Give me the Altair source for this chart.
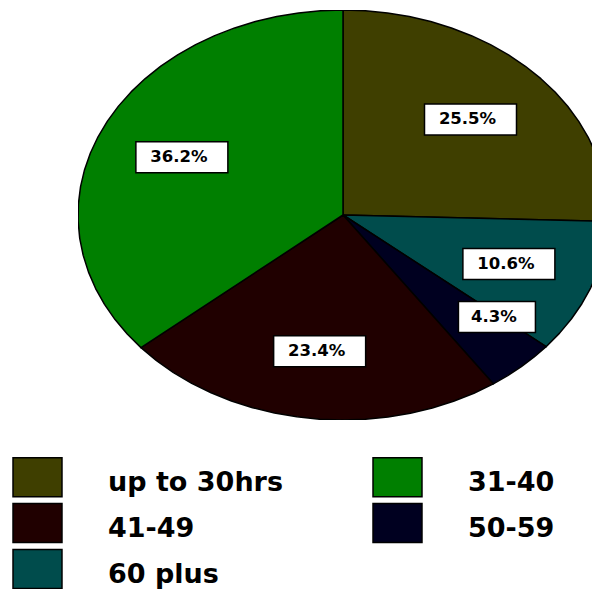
import altair as alt
import pandas as pd

# slices in clockwise order from 12 o'clock
categories = ["up to 30hrs", "60 plus", "50-59", "41-49", "31-40"]
shares = [25.5, 10.6, 4.3, 23.4, 36.2]
# legend order and colours
legend_order = ["up to 30hrs", "31-40", "41-49", "50-59", "60 plus"]
colors = ["#3f3f00", "#007f00", "#200000", "#000020", "#004c4c"]

df = pd.DataFrame({"cat": categories, "share": shares, "idx": list(range(len(categories)))})

PX, PY = 265.0, 205.0          # ellipse radii in pixels
W = 514                         # visible plot width (pie is cut at the right edge)
H = int(2 * PY)
XMAX = W / PX - 1

xs = alt.Scale(domain=[-1, XMAX], nice=False, zero=False)
ys = alt.Scale(domain=[-1, 1], nice=False, zero=False)

base = (
    alt.Chart(df)
    .transform_window(cum="sum(share)", sort=[{"field": "idx"}], frame=[None, 0])
    .transform_joinaggregate(total="sum(share)")
    .transform_calculate(
        a0="PI/2 - 2*PI*(datum.cum - datum.share)/datum.total",
        a1="PI/2 - 2*PI*datum.cum/datum.total",
        frac="datum.share/datum.total",
    )
)

pie = (
    base.transform_calculate(n="max(2, ceil(datum.frac*72))")
    .transform_calculate(pts="sequence(0, datum.n + 2)")
    .transform_flatten(["pts"], as_=["k"])
    .transform_calculate(
        x="datum.k == 0 ? 0 : cos(datum.a0 + (datum.a1 - datum.a0)*(datum.k - 1)/datum.n)",
        y="datum.k == 0 ? 0 : sin(datum.a0 + (datum.a1 - datum.a0)*(datum.k - 1)/datum.n)",
    )
    .mark_line(interpolate="linear-closed", stroke="black", strokeWidth=1.5,
               strokeJoin="round", clip=True)
    .encode(
        x=alt.X("x:Q", scale=xs, axis=None),
        y=alt.Y("y:Q", scale=ys, axis=None),
        order=alt.Order("k:Q"),
        detail="cat:N",
        fill=alt.Fill(
            "cat:N",
            scale=alt.Scale(domain=legend_order, range=colors),
            legend=alt.Legend(
                title=None,
                orient="none",
                legendX=-61,
                legendY=452,
                direction="horizontal",
                columns=2,
                symbolType="M-1.256,-1.282H1.256V0.718H-1.256Z",
                symbolSize=1521,
                symbolStrokeColor="black",
                symbolStrokeWidth=1.5,
                symbolOpacity=1,
                labelFont="DejaVu Sans",
                labelFontSize=27,
                labelFontWeight="bold",
                labelColor="black",
                labelOffset=50,
                labelLimit=400,
                columnPadding=87,
                rowPadding=0,
                padding=0,
            ),
        ),
    )
)

labels = base.transform_calculate(
    mid="(datum.a0 + datum.a1)/2 + (datum.frac < 0.05 ? 0.124 : 0)",
    r="datum.frac < 0.05 ? 0.765 : 0.67",
    txt="format(datum.share, '.1f') + '%'",
).transform_calculate(
    lx="datum.r*cos(datum.mid)",
    ly="datum.r*sin(datum.mid)",
    hw=f"(15*length(datum.txt) + 17)/2/{PX}",
    hh=f"15.5/{PY}",
).transform_calculate(
    bx0="datum.lx - datum.hw",
    bx1="datum.lx + datum.hw",
    by0="datum.ly - datum.hh",
    by1="datum.ly + datum.hh",
)

boxes = labels.mark_rect(fill="white", stroke="black", strokeWidth=1.5).encode(
    x=alt.X("bx0:Q", scale=xs, axis=None),
    x2="bx1:Q",
    y=alt.Y("by0:Q", scale=ys, axis=None),
    y2="by1:Q",
)

texts = labels.mark_text(
    font="DejaVu Sans", fontSize=16.5, fontWeight="bold", color="black",
    align="center", baseline="middle", dx=-3,
).encode(
    x=alt.X("lx:Q", scale=xs, axis=None),
    y=alt.Y("ly:Q", scale=ys, axis=None),
    text="txt:N",
)

chart = (
    alt.layer(pie, boxes, texts)
    .properties(
        width=W,
        height=H,
        autosize=alt.AutoSizeParams(type="none"),
        padding={"left": 70, "top": 2, "right": 0, "bottom": 169},
    )
    .configure_view(stroke=None)
)

chart.save("out.html", embed_options={"renderer": "svg", "actions": False})
